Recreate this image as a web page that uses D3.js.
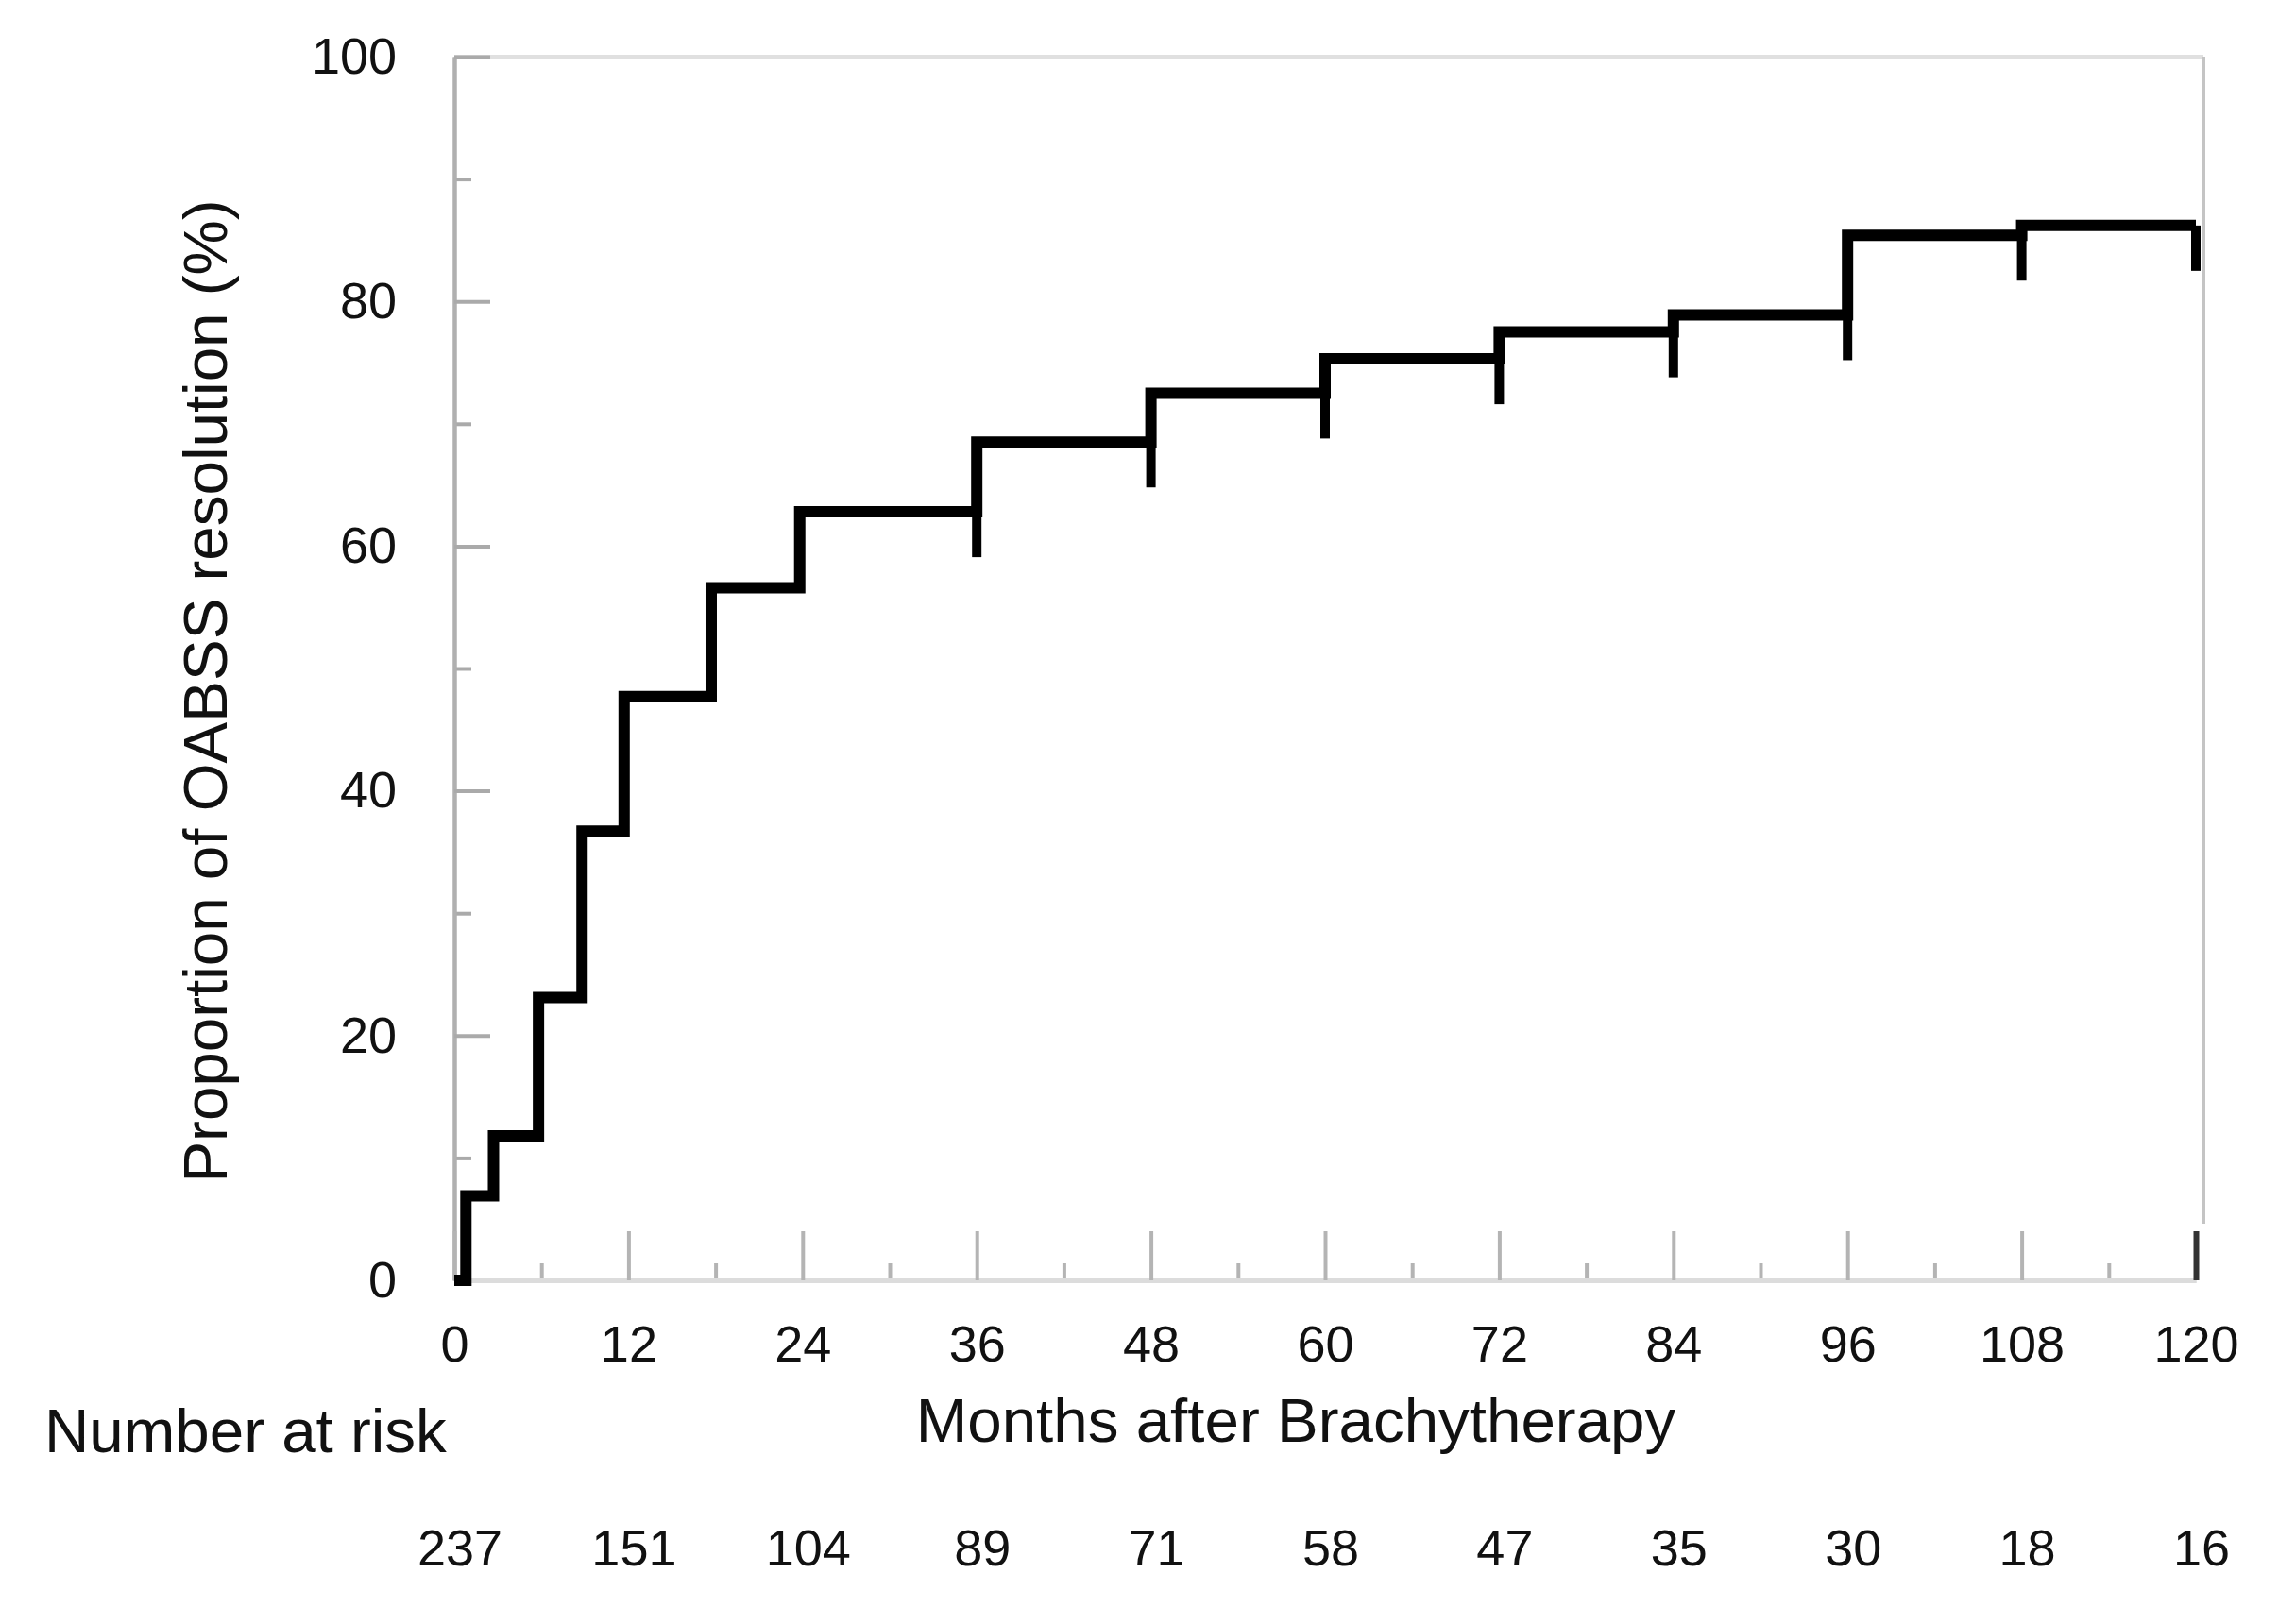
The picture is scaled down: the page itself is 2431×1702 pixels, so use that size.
<!DOCTYPE html>
<html>
<head>
<meta charset="utf-8">
<script src="https://cdn.jsdelivr.net/npm/d3@7"></script>
<style>
  html, body { margin: 0; padding: 0; background: #ffffff; }
  svg { display: block; }
  text { font-family: "Liberation Sans", Arial, sans-serif; fill: #111111; }
</style>
</head>
<body>
<svg id="chart" width="2431" height="1702"></svg>
<script>
// ---- data ----
const stepTimes  = [0, 0.8, 2.7, 5.8, 8.8, 11.7, 17.7, 23.8, 36, 48, 60, 72, 84, 96, 108, 120];
const stepValues = [0, 6.9, 11.8, 23.1, 36.7, 47.7, 56.6, 62.8, 68.5, 72.5, 75.3, 77.5, 78.9, 85.4, 86.2, 86.2];
const censorTimes = [36, 48, 60, 72, 84, 96, 108, 120];
const xMajorTicks = [0, 12, 24, 36, 48, 60, 72, 84, 96, 108, 120];
const xMinorTicks = [6, 18, 30, 42, 54, 66, 78, 90, 102, 114];
const yMajorTicks = [0, 20, 40, 60, 80, 100];
const yMinorTicks = [10, 30, 50, 70, 90];
const riskTimes  = [0, 12, 24, 36, 48, 60, 72, 84, 96, 108, 120];
const riskCounts = [237, 151, 104, 89, 71, 58, 47, 35, 30, 18, 16];
const xTitle = "Months after Brachytherapy";
const yTitle = "Proportion of OABSS resolution (%)";
const riskTitle = "Number at risk";

// ---- layout ----
const svg = d3.select("#chart");
const x0 = 481, x1 = 2325, yBottom = 1356, yTop = 60;
const x = d3.scaleLinear().domain([0, 120]).range([x0, x1]);
const y = d3.scaleLinear().domain([0, 100]).range([yBottom, yTop]);

// frame (top and right, light)
svg.append("line").attr("x1", x0).attr("x2", x1 + 8).attr("y1", yTop).attr("y2", yTop)
  .attr("stroke", "#e0e0e0").attr("stroke-width", 4);
svg.append("line").attr("x1", x1 + 8).attr("x2", x1 + 8).attr("y1", yTop).attr("y2", yBottom - 60)
  .attr("stroke", "#c4c4c4").attr("stroke-width", 4);

// y axis
const gyMinor = svg.append("g").attr("transform", `translate(${x0},0)`)
  .call(d3.axisLeft(y).tickValues(yMinorTicks).tickSize(-18).tickSizeOuter(0).tickFormat(""));
const gy = svg.append("g").attr("transform", `translate(${x0},0)`)
  .call(d3.axisLeft(y).tickValues(yMajorTicks).tickSize(-38).tickSizeOuter(0).tickPadding(61));
[gy, gyMinor].forEach(g => {
  g.select(".domain").attr("stroke", "#b0b0b0").attr("stroke-width", 4);
  g.selectAll(".tick line").attr("stroke", "#aaaaaa").attr("stroke-width", 4);
});
gy.selectAll(".tick text").attr("font-size", 54).attr("fill", "#111111")
  .attr("font-family", "Liberation Sans, Arial, sans-serif");

// x axis
const gxMinor = svg.append("g").attr("transform", `translate(0,${yBottom})`)
  .call(d3.axisBottom(x).tickValues(xMinorTicks).tickSize(-18).tickSizeOuter(0).tickFormat(""));
const gx = svg.append("g").attr("transform", `translate(0,${yBottom})`)
  .call(d3.axisBottom(x).tickValues(xMajorTicks).tickSize(-52).tickSizeOuter(0).tickPadding(48));
[gx, gxMinor].forEach(g => {
  g.select(".domain").attr("stroke", "#dcdcdc").attr("stroke-width", 5);
  g.selectAll(".tick line").attr("stroke", "#b4b4b4").attr("stroke-width", 4);
});
gx.selectAll(".tick").filter(d => d === 120).select("line").attr("stroke", "#333333").attr("stroke-width", 6);
gx.selectAll(".tick text").attr("font-size", 54).attr("fill", "#111111")
  .attr("font-family", "Liberation Sans, Arial, sans-serif");

// curve
const pts = stepTimes.map((t, i) => [t, stepValues[i]]);
const line = d3.line().x(d => x(d[0])).y(d => y(d[1])).curve(d3.curveStepAfter);
svg.append("path").datum(pts).attr("d", line)
  .attr("fill", "none").attr("stroke", "#000").attr("stroke-width", 12)
  .attr("stroke-linejoin", "miter");

// censor marks: value just before each time
function levelBefore(t) {
  let v = 0;
  for (let i = 0; i < stepTimes.length; i++) { if (stepTimes[i] < t) v = stepValues[i]; }
  return v;
}
svg.append("g").selectAll("line").data(censorTimes).join("line")
  .attr("x1", d => x(d)).attr("x2", d => x(d))
  .attr("y1", d => y(levelBefore(d)))
  .attr("y2", d => y(levelBefore(d)) + 48)
  .attr("stroke", "#000").attr("stroke-width", 10);

// titles
svg.append("text").attr("x", 1372).attr("y", 1527).attr("text-anchor", "middle")
  .attr("font-size", 65.5).text(xTitle);
svg.append("text").attr("transform", `translate(240,732) rotate(-90)`).attr("text-anchor", "middle")
  .attr("font-size", 65.5).text(yTitle);
svg.append("text").attr("x", 47).attr("y", 1538).attr("font-size", 65.5).text(riskTitle);

// number at risk
svg.append("g").selectAll("text").data(riskTimes).join("text")
  .attr("x", d => x(d) + 6).attr("y", 1658).attr("text-anchor", "middle")
  .attr("font-size", 54).text((d, i) => riskCounts[i]);
</script>
</body>
</html>
